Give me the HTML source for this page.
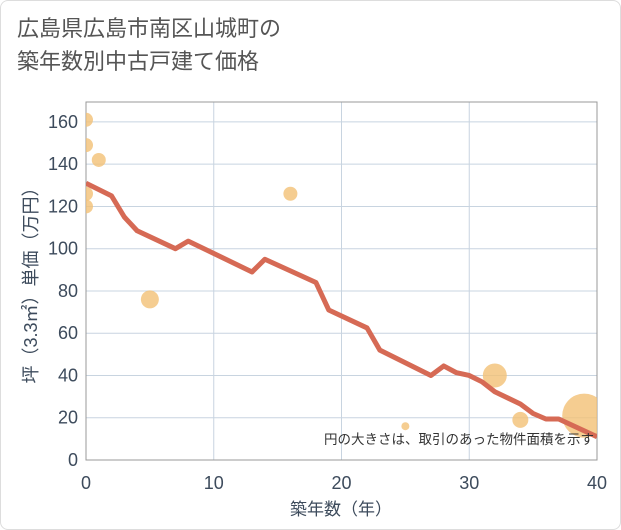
<!DOCTYPE html>
<html><head><meta charset="utf-8"><style>
body{margin:0;background:#fff;font-family:"Liberation Sans","Noto Sans CJK JP",sans-serif;}
.card{position:absolute;left:0;top:0;width:619px;height:528px;border:1px solid #ddd;border-radius:8px;background:#fff;}
.title{position:absolute;left:17px;top:12px;font-size:22px;line-height:33px;color:#555;}
</style></head><body>
<div class="card"></div>
<div class="title">広島県広島市南区山城町の<br>築年数別中古戸建て価格</div>
<svg id="chart" width="621" height="530" style="position:absolute;left:0;top:0"></svg>
<script>
const lineYears=[0,2,3,4,7,8,13,14,18,19,22,23,27,28,29,30,31,32,34,35,36,37,40];
const linePrices=[131,125,115,108.5,100,103.6,89,95,84,71,62.5,52,40,44.5,41.3,40,37,32.3,26.5,22,19.4,19.4,11];
const bubbleYears=[0,0,1,0,0,5,16,25,32,34,39];
const bubblePrices=[161,149,142,126,120,76,126,16,40,19,21];
const bubbleSizes=[7,7,7,7,7,9,7,4,12,8,22];
const xTicks=[0,10,20,30,40];
const yTicks=[0,20,40,60,80,100,120,140,160];
const L=86,R=597,T=102,B=460;
const xs=v=>L+(R-L)*v/40;
const ys=v=>B-v*2.113;
const svg=document.getElementById('chart');
const NS='http://www.w3.org/2000/svg';
const TC='#3d4b5c';
function mk(t,a,p){const e=document.createElementNS(NS,t);for(const k in a)e.setAttribute(k,a[k]);(p||svg).appendChild(e);return e;}
const clip=mk('clipPath',{id:'pc'});mk('rect',{x:L,y:T,width:R-L,height:B-T},clip);
xTicks.forEach(v=>{const g=mk('line',{x1:xs(v),x2:xs(v),y1:T,y2:B,stroke:'#c8d4e0','stroke-width':1});

const t=mk('text',{x:xs(v),y:489,'text-anchor':'middle','font-size':18,fill:TC});t.textContent=v;
});
yTicks.forEach(v=>{const g=mk('line',{x1:L,x2:R,y1:ys(v),y2:ys(v),stroke:'#c8d4e0','stroke-width':1});

const t=mk('text',{x:78,y:ys(v)+6,'text-anchor':'end','font-size':18,fill:TC});t.textContent=v;
});
const bx=mk('rect',{x:L,y:T,width:R-L,height:B-T,fill:'none',stroke:'#999','stroke-width':1});

const gb=mk('g',{'clip-path':'url(#pc)'});
bubbleYears.forEach((yr,i)=>{const c=mk('circle',{cx:xs(yr),cy:ys(bubblePrices[i]),r:bubbleSizes[i],fill:'#f3c176','fill-opacity':0.8},gb);
});
const pl=mk('polyline',{points:lineYears.map((yr,i)=>xs(yr)+','+ys(linePrices[i])).join(' '),fill:'none',stroke:'#d66a55','stroke-width':5,'stroke-linejoin':'round'},gb);

const note=mk('text',{x:594,y:444,'text-anchor':'end','font-size':13.5,fill:'#333'});note.textContent='円の大きさは、取引のあった物件面積を示す';

const xt=mk('text',{x:341,y:515,'text-anchor':'middle','font-size':17,fill:TC});xt.textContent='築年数（年）';

const yt=mk('text',{x:0,y:0,'text-anchor':'middle','font-size':18,fill:TC,transform:'translate(37,281) rotate(-90)'});yt.textContent='坪（3.3㎡）単価（万円）';

</script>
</body></html>
